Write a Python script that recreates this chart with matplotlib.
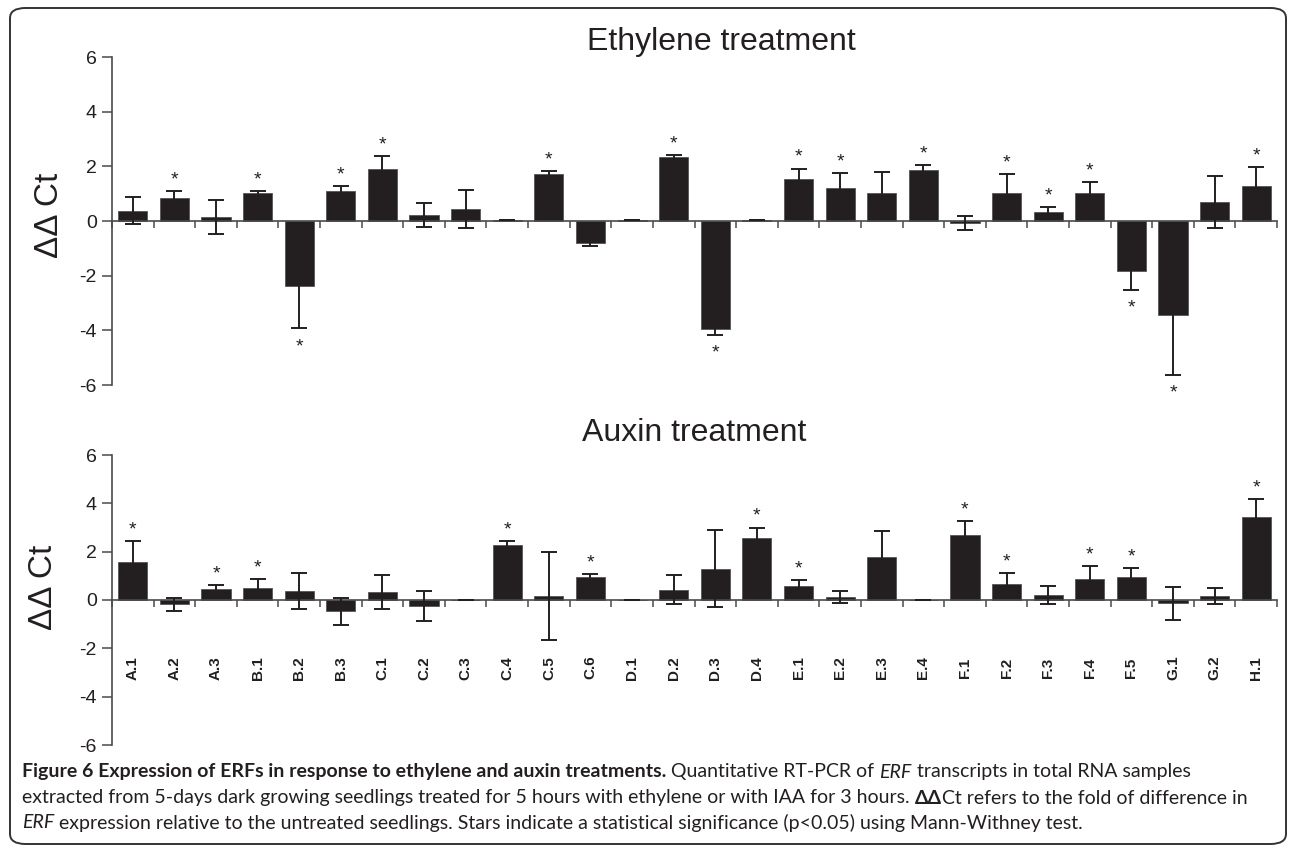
import matplotlib
matplotlib.use('Agg')
import matplotlib.pyplot as plt
import numpy as np
from matplotlib.patches import FancyBboxPatch

plt.rcParams['font.family'] = ['Liberation Sans', 'DejaVu Sans']
plt.rcParams['axes.unicode_minus'] = False

# ERF genes
genes = ['A.1', 'A.2', 'A.3', 'B.1', 'B.2', 'B.3', 'C.1', 'C.2', 'C.3', 'C.4',
         'C.5', 'C.6', 'D.1', 'D.2', 'D.3', 'D.4', 'E.1', 'E.2', 'E.3', 'E.4',
         'F.1', 'F.2', 'F.3', 'F.4', 'F.5', 'G.1', 'G.2', 'H.1']

# ethylene treatment (ddCt, error, significant)
eth_val = [0.38, 0.85, 0.15, 1.02, -2.38, 1.10, 1.92, 0.22, 0.45, 0.02,
           1.73, -0.80, 0.02, 2.35, -3.94, 0.02, 1.55, 1.22, 1.04, 1.86,
           -0.06, 1.04, 0.33, 1.04, -1.82, -3.43, 0.71, 1.29]
eth_err = [0.48, 0.24, 0.62, 0.06, 1.55, 0.18, 0.45, 0.45, 0.70, 0.0,
           0.10, 0.10, 0.0, 0.07, 0.22, 0.0, 0.37, 0.53, 0.75, 0.18,
           0.26, 0.69, 0.17, 0.38, 0.69, 2.20, 0.95, 0.70]
eth_sig = [0, 1, 0, 1, 1, 1, 1, 0, 0, 0,
           1, 0, 0, 1, 1, 0, 1, 1, 0, 1,
           0, 1, 1, 1, 1, 1, 0, 1]

# auxin treatment
aux_val = [1.56, -0.18, 0.47, 0.51, 0.37, -0.46, 0.33, -0.24, 0.02, 2.26,
           0.17, 0.94, 0.02, 0.42, 1.30, 2.57, 0.58, 0.12, 1.80, 0.02,
           2.68, 0.68, 0.20, 0.87, 0.94, -0.14, 0.16, 3.44]
aux_err = [0.89, 0.27, 0.14, 0.37, 0.76, 0.56, 0.71, 0.62, 0.0, 0.17,
           1.82, 0.14, 0.0, 0.60, 1.58, 0.43, 0.24, 0.26, 1.05, 0.0,
           0.60, 0.43, 0.36, 0.53, 0.39, 0.69, 0.33, 0.74]
aux_sig = [1, 0, 1, 1, 0, 0, 0, 0, 0, 1,
           0, 1, 0, 0, 0, 1, 1, 0, 0, 0,
           1, 1, 0, 1, 1, 0, 0, 1]

W, H = 1290, 848
fig = plt.figure(figsize=(W / 100, H / 100), dpi=100)

bar_col = '#231f20'
axis_col = '#4a4a4a'


def panel(rect, vals, errs, sig):
    ax = fig.add_axes(rect)
    x = np.arange(len(genes))
    ax.bar(x, vals, width=0.7, color=bar_col, edgecolor='#555555', linewidth=0.6, zorder=2)
    ax.errorbar(x, vals, yerr=errs, fmt='none', ecolor=bar_col, elinewidth=1.4,
                capsize=6, capthick=1.4, zorder=3)
    for i in range(len(genes)):
        if sig[i]:
            v = vals[i]
            if v >= 0:
                ax.annotate('*', (x[i], v + errs[i]), xytext=(0, 8), textcoords='offset points',
                            ha='center', va='center', fontsize=14, color=bar_col)
            else:
                ax.annotate('*', (x[i], v - errs[i]), xytext=(0, -13), textcoords='offset points',
                            ha='center', va='center', fontsize=14, color=bar_col)
    ax.set_xlim(-0.5, len(genes) - 0.5)
    ax.set_ylim(-6, 6)
    ax.set_yticks([-6, -4, -2, 0, 2, 4, 6])
    ax.spines['top'].set_visible(False)
    ax.spines['right'].set_visible(False)
    ax.spines['bottom'].set_position(('data', 0))
    for s in ['left', 'bottom']:
        ax.spines[s].set_color(axis_col)
        ax.spines[s].set_linewidth(1.2)
    ax.set_xticks(np.arange(len(genes) + 1) - 0.5)
    ax.set_xticklabels([])
    ax.tick_params(axis='x', direction='out', length=5, width=1.1, color=axis_col)
    ax.tick_params(axis='y', direction='out', length=7, width=1.1, color=axis_col,
                   labelsize=14, pad=4, labelcolor='#231f20')
    ax.patch.set_alpha(0)
    return ax


ax1 = panel([112 / W, 1 - 385 / H, 1165 / W, 328 / H], eth_val, eth_err, eth_sig)
ax2 = panel([112 / W, 1 - 745 / H, 1165 / W, 290 / H], aux_val, aux_err, aux_sig)

for i, g in enumerate(genes):
    ax2.text(i, -2.8, g, rotation=90, ha='center', va='center', fontsize=11,
             fontweight='bold', color='#231f20')

fig.text(721 / W, 1 - 42 / H, 'Ethylene treatment', ha='center', va='center',
         fontsize=23, color='#231f20')
fig.text(694 / W, 1 - 433 / H, 'Auxin treatment', ha='center', va='center',
         fontsize=23, color='#231f20')
fig.text(50 / W, 1 - 215 / H, 'ΔΔ Ct', rotation=90, ha='center', va='center',
         fontsize=24, color='#231f20')
fig.text(44 / W, 1 - 587 / H, 'ΔΔ Ct', rotation=90, ha='center', va='center',
         fontsize=24, color='#231f20')

# rounded frame
frame = FancyBboxPatch((10 / W, 4 / H), 1276 / W, 836 / H,
                       boxstyle='round,pad=0,rounding_size=0.012',
                       transform=fig.transFigure, fill=False, edgecolor='#333333',
                       linewidth=1.4)
fig.add_artist(frame)

# caption
cap_font = 'Lato'
cap_size = 14
renderer = fig.canvas.get_renderer()


def rich_line(x_px, y_px, parts):
    x = x_px
    for txt, weight, style in parts:
        t = fig.text(x / W, 1 - y_px / H, txt, fontsize=cap_size, family=cap_font,
                     fontweight=weight, fontstyle=style, va='center', ha='left',
                     color='#231f20')
        bb = t.get_window_extent(renderer)
        x += bb.width


rich_line(22, 772, [
    ('Figure 6 Expression of ERFs in response to ethylene and auxin treatments.', 'bold', 'normal'),
    (' Quantitative RT-PCR of ', 'normal', 'normal'),
    ('ERF', 'normal', 'italic'),
    (' transcripts in total RNA samples', 'normal', 'normal')])
rich_line(22, 798, [
    ('extracted from 5-days dark growing seedlings treated for 5 hours with ethylene or with IAA for 3 hours. ', 'normal', 'normal'),
    ('ΔΔ', 'bold', 'normal'),
    ('Ct refers to the fold of difference in', 'normal', 'normal')])
rich_line(22, 823, [
    ('ERF', 'normal', 'italic'),
    (' expression relative to the untreated seedlings. Stars indicate a statistical significance (p<0.05) using Mann-Withney test.', 'normal', 'normal')])

fig.savefig('out.png', dpi=100)
